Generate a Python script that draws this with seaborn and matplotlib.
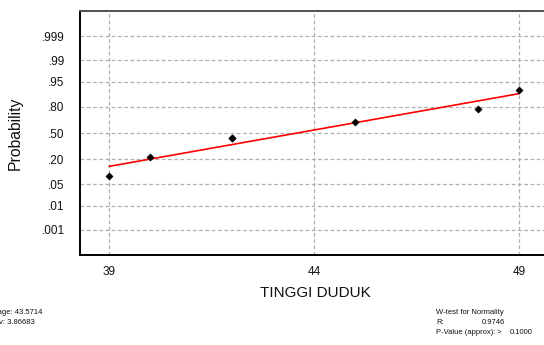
import numpy as np
import matplotlib
matplotlib.use("Agg")
import matplotlib.pyplot as plt
import seaborn as sns
from statistics import NormalDist

# Observations (TINGGI DUDUK) and their plotting probabilities
tinggi = [39, 40, 42, 42, 45, 48, 49]
prob = [0.086, 0.224, 0.431, 0.431, 0.638, 0.776, 0.914]

# Fitted normal line end points
fit_x = [39, 49]
fit_p = [0.143, 0.896]

# Probability axis ticks
y_ticks = [0.001, 0.01, 0.05, 0.20, 0.50, 0.80, 0.95, 0.99, 0.999]
y_labels = [".001", ".01", ".05", ".20", ".50", ".80", ".95", ".99", ".999"]
x_ticks = [39, 44, 49]

_nd = NormalDist()
_ppf = np.vectorize(_nd.inv_cdf, otypes=[float])
_cdf = np.vectorize(_nd.cdf, otypes=[float])


def to_z(p):
    p = np.clip(np.asarray(p, dtype=float), 1e-12, 1 - 1e-12)
    return _ppf(p)


def from_z(z):
    return _cdf(np.asarray(z, dtype=float))


sns.set_theme(style="white")
plt.rcParams["font.family"] = ["Liberation Sans", "DejaVu Sans"]

fig = plt.figure(figsize=(5.44, 3.45), dpi=100)
ax = fig.add_axes([80 / 544, 1 - 255 / 345, 470 / 544, 244 / 345])

ax.set_yscale("function", functions=(to_z, from_z))

df_pts = {"x": tinggi, "p": prob}
df_fit = {"x": fit_x, "p": fit_p}
sns.lineplot(x="x", y="p", data=df_fit, ax=ax, color="#ff0000", lw=1.2, zorder=3)
sns.scatterplot(x="x", y="p", data=df_pts, ax=ax, marker="D", color="black",
                s=14, edgecolor="black", linewidth=0.3, zorder=4)

ax.set_xlim(38.29, 49.75)
ax.set_ylim(float(from_z(-3.9)), float(from_z(3.9)))
ax.set_xticks(x_ticks)
ax.set_xticklabels([str(t) for t in x_ticks], fontsize=8.5)
ax.set_yticks(y_ticks)
ax.set_yticklabels(y_labels, fontsize=8.5)
ax.minorticks_off()

ax.grid(True, color="#b0b0b0", linestyle=(0, (3, 2)), linewidth=0.9)
ax.tick_params(axis="x", which="major", direction="out", length=3,
               width=0.9, color="black", pad=5, labelcolor="#111111")
ax.tick_params(axis="y", which="major", direction="out", length=7,
               width=0.8, color="black", pad=4, labelcolor="#111111")

ax.spines["left"].set_color("black")
ax.spines["bottom"].set_color("black")
ax.spines["left"].set_linewidth(1.4)
ax.spines["bottom"].set_linewidth(1.4)
ax.spines["top"].set_color("#505050")
ax.spines["top"].set_linewidth(1.4)
ax.spines["right"].set_visible(False)

ax.set_xlabel("TINGGI DUDUK", fontsize=11, labelpad=6, color="#111111")
ax.set_ylabel("Probability", fontsize=11.3, color="#111111")
ax.yaxis.set_label_coords(23 / 544, 1 - 133 / 345, transform=fig.transFigure)


# Summary statistics, placed in figure pixels
def ftxt(xpx, ypx, s):
    fig.text(xpx / 544, 1 - ypx / 345, s, fontsize=5.5, va="center", ha="left",
             color="#111111")


ftxt(-18, 312, "Average: 43.5714")
ftxt(-18, 322, "StDev: 3.86683")
ftxt(-18, 332, "N: 7")

ftxt(436, 312, "W-test for Normality")
ftxt(436, 322, "R:")
ftxt(482, 322, "0.9746")
ftxt(436, 332, "P-Value (approx):")
ftxt(497, 332, ">")
ftxt(510, 332, "0.1000")

fig.savefig("out.png", dpi=100)
